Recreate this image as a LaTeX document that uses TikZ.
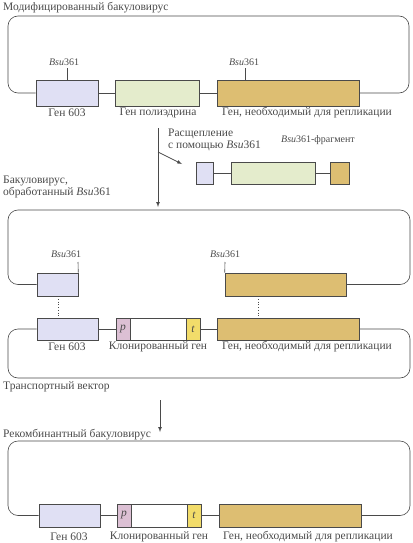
\documentclass[tikz,border=0pt]{standalone}
\usepackage{fontspec}
\setmainfont{Liberation Serif}
\definecolor{ink}{HTML}{4A4A4A}
\definecolor{lav}{HTML}{E0E0F4}
\definecolor{pea}{HTML}{E4ECCC}
\definecolor{tan}{HTML}{DDBE72}
\definecolor{pnk}{HTML}{DCC0D4}
\definecolor{ylw}{HTML}{F2DC6A}
\begin{document}
\begin{tikzpicture}[
	x=1pt, y=-1pt,
	font=\fontsize{11.5}{12}\selectfont, text=ink,
	gene/.style={rectangle,draw=ink,line width=0.6pt,inner sep=0pt,minimum height=23pt},
	wire/.style={draw=ink,line width=0.6pt,rounded corners=10pt},
	lbl/.style={inner sep=0pt,anchor=center},
	ttl/.style={inner sep=0pt,anchor=west},
	site/.style={inner sep=0pt,anchor=center,font=\fontsize{10}{11}\selectfont},
	flow/.style={>=latex,draw=ink,line width=0.7pt,->},
	]
	\useasboundingbox (0,0) rectangle (412,543);
	% modified baculovirus
	\node[ttl] (t1) at (3,8) {Модифицированный бакуловирус};
	\node[gene, fill=lav, minimum width=62pt, minimum height=26pt] (ga603) at (67,93) {};
	\node[gene, fill=pea, minimum width=84pt, minimum height=26pt] (gapol) at (157,93) {};
	\node[gene, fill=tan, minimum width=142pt, minimum height=26pt] (garep) at (288,93) {};
	\draw[wire] (ga603.west) -- (8,93) -- (8,16) -- (409,16) -- (409,93) -- (garep.east);
	\draw[wire] (ga603.east) -- (gapol.west);
	\draw[wire] (gapol.east) -- (garep.west);
	\node[lbl] (la603) at (67,113) {Ген 603};
	\node[lbl] (lapol) at (158,113) {Ген полиэдрина};
	\node[lbl] (larep) at (307,113) {Ген, необходимый для репликации};
	\node[site] (sa1) at (64,62) {\textit{Bsu}361};
	\node[site] (sa2) at (244,62) {\textit{Bsu}361};
	\draw[wire] (67,68) -- (67,80);
	\draw[wire] (245,68) -- (245,80);
	% digestion
	\coordinate (d0) at (158,128);
	\coordinate (d1) at (158,207);
	\coordinate (d2) at (158,152);
	\coordinate (d3) at (182,164);
	\draw[flow] (d0) -- (d1);
	\draw[flow] (d2) -- (d3);
	\node[ttl] (cut1) at (168,134) {Расщепление};
	\node[ttl] (cut2) at (168,146) {с помощью \textit{Bsu}361};
	\node[gene, fill=lav, minimum width=17pt, minimum height=22pt] (frA) at (204.5,173) {};
	\node[gene, fill=pea, minimum width=84pt, minimum height=22pt] (frB) at (273,173) {};
	\node[gene, fill=tan, minimum width=19pt, minimum height=22pt] (frC) at (339.5,173) {};
	\draw[wire] (frA.east) -- (frB.west);
	\draw[wire] (frB.east) -- (frC.west);
	\node[site] (frL) at (318,140) {\textit{Bsu}361-фрагмент};
	% digested baculovirus
	\node[ttl] (t2a) at (3,181) {Бакуловирус,};
	\node[ttl] (t2b) at (3,193) {обработанный \textit{Bsu}361};
	\node[gene, fill=lav, minimum width=41pt] (gb603) at (57.5,284.5) {};
	\node[gene, fill=tan, minimum width=121pt] (gbrep) at (285.5,284.5) {};
	\draw[wire] (gb603.west) -- (8,284.5) -- (8,210) -- (410,210) -- (410,284.5) -- (gbrep.east);
	\node[site] (sb1) at (66,254) {\textit{Bsu}361};
	\node[site] (sb2) at (225,254) {\textit{Bsu}361};
	\draw[wire] (78,262) -- (gb603.north east);
	\draw[wire] (225,262) -- (gbrep.north west);
	% transfer vector
	\node[gene, fill=lav, minimum width=61pt, minimum height=22pt] (gc603) at (67.5,329) {};
	\node[gene, fill=pnk, minimum width=14pt, minimum height=22pt] (gcp) at (123,329) {\textit{p}};
	\node[gene, fill=white, minimum width=56pt, minimum height=22pt] (gccl) at (158,329) {};
	\node[gene, fill=ylw, minimum width=14pt, minimum height=22pt] (gct) at (193,329) {\textit{t}};
	\node[gene, fill=tan, minimum width=142pt, minimum height=22pt] (gcrep) at (288,329) {};
	\draw[wire] (gc603.west) -- (8,329) -- (8,378) -- (410,378) -- (410,329) -- (gcrep.east);
	\draw[wire] (gc603.east) -- (gcp.west);
	\draw[wire] (gct.east) -- (gcrep.west);
	\draw[ink, line width=0.7pt, dotted] (gb603.south -| 58,0) -- (gc603.north -| 58,0);
	\draw[ink, line width=0.7pt, dotted] (gbrep.south -| 258,0) -- (gcrep.north -| 258,0);
	\node[lbl] (lc603) at (67,347) {Ген 603};
	\node[lbl] (lccl) at (158,347) {Клонированный ген};
	\node[lbl] (lcrep) at (307,347) {Ген, необходимый для репликации};
	\node[ttl] (t3) at (3,387) {Транспортный вектор};
	% recombination
	\coordinate (r0) at (160,400);
	\coordinate (r1) at (160,432);
	\draw[flow] (r0) -- (r1);
	\node[ttl] (t4) at (3,435) {Рекомбинантный бакуловирус};
	\node[gene, fill=lav, minimum width=61pt] (gd603) at (69.5,515.5) {};
	\node[gene, fill=pnk, minimum width=14pt] (gdp) at (124,515.5) {\textit{p}};
	\node[gene, fill=white, minimum width=56pt] (gdcl) at (159,515.5) {};
	\node[gene, fill=ylw, minimum width=14pt] (gdt) at (194,515.5) {\textit{t}};
	\node[gene, fill=tan, minimum width=142pt] (gdrep) at (290,515.5) {};
	\draw[wire] (gd603.west) -- (8,515.5) -- (8,441) -- (410,441) -- (410,515.5) -- (gdrep.east);
	\draw[wire] (gd603.east) -- (gdp.west);
	\draw[wire] (gdt.east) -- (gdrep.west);
	\node[lbl] (ld603) at (69,537) {Ген 603};
	\node[lbl] (ldcl) at (159,537) {Клонированный ген};
	\node[lbl] (ldrep) at (308,537) {Ген, необходимый для репликации};
\end{tikzpicture}
\end{document}
